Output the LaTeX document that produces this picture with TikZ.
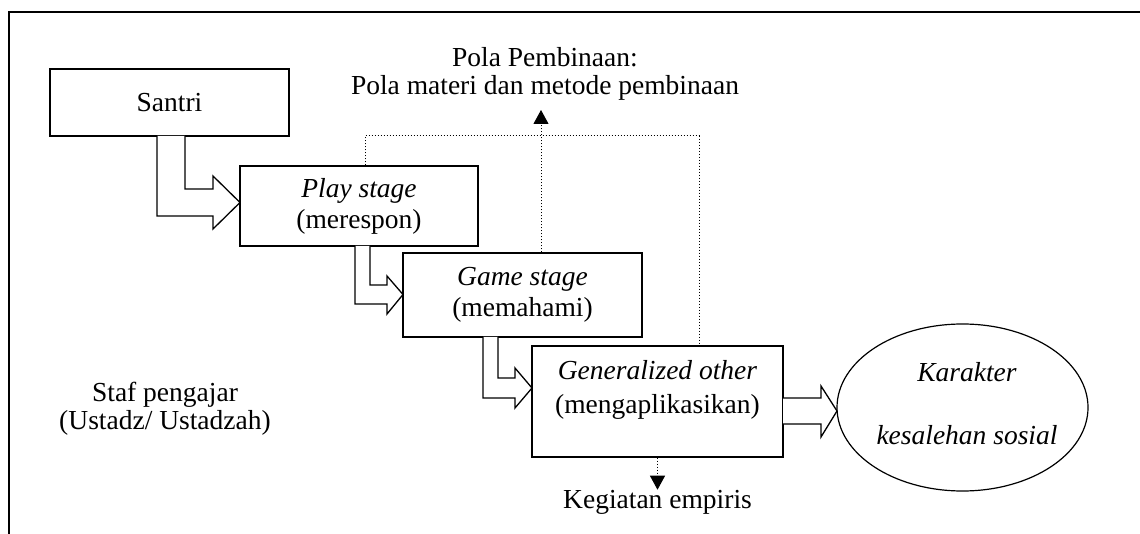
\documentclass[tikz,border=0pt]{standalone}
\usepackage{fontspec}
\setmainfont{Liberation Serif}
\usetikzlibrary{arrows.meta,calc,shapes.geometric}
\begin{document}
\begin{tikzpicture}[x=1pt,y=-1pt,
 box/.style={draw,line width=1.4pt,inner sep=0pt,align=center,font=\fontsize{27.5}{31}\selectfont},
 txt/.style={inner sep=0pt,align=center,font=\fontsize{27.5}{28}\selectfont},
 blockarrow/.style={draw,line width=1.3pt,fill=white,line join=miter},
 dotline/.style={line width=1pt,dash pattern=on 1pt off 2pt},
 tipped/.style={-{Triangle[width=15pt,length=14pt]}}
]
\useasboundingbox (0,0) rectangle (1140,534);
% frame
\coordinate (ftl) at (9,12);
\coordinate (ftr) at (1141,12);
\coordinate (fbl) at (9,535);
\draw[line width=1.4pt] (fbl) -- (ftl) -- (ftr);

% boxes
\node[box,minimum width=239pt,minimum height=67pt] (santri) at (169.5,102.5) {Santri};
\node[box,minimum width=238pt,minimum height=80pt] (play) at (359,206) {\textit{Play stage}\\(merespon)};
\node[box,minimum width=239pt,minimum height=84pt] (game) at (522.5,295) {\textit{Game stage}\\(memahami)};
\node[box,minimum width=251pt,minimum height=111pt] (gen) at (657.5,401.5) {};
\node[txt,font=\fontsize{27.5}{34}\selectfont] (gentext) at (657.5,390) {\textit{Generalized other}\\(mengaplikasikan)};
\node[draw,ellipse,line width=1.2pt,inner sep=0pt,minimum width=251pt,minimum height=167pt] (kar) at (962.5,407.5) {};
\node[txt] (kar1) at (967,372) {\textit{Karakter}};
\node[txt] (kar2) at (967,435) {\textit{kesalehan sosial}};

% labels
\node[txt] (pola) at (545,74) {Pola Pembinaan:\\Pola materi dan metode pembinaan};
\node[txt] (staf) at (165,409) {Staf pengajar\\(Ustadz/ Ustadzah)};
\node[txt] (keg) at (657.5,502) {Kegiatan empiris};

% block arrows
\draw[blockarrow] (157,136) -- (157,216) -- (213,216) -- (213,229) -- (240,202.5) -- (213,176) -- (213,189) -- (185,189) -- (185,136);
\draw[blockarrow] (355,246) -- (355,304) -- (387,304) -- (387,314) -- (403,294.5) -- (387,276) -- (387,285) -- (370,285) -- (370,246);
\draw[blockarrow] (483,337) -- (483,398) -- (515,398) -- (515,408) -- (532,388) -- (515,368) -- (515,378) -- (498,378) -- (498,337);
\draw[blockarrow] (783,398) -- (821,398) -- (821,386) -- (837,411) -- (821,437) -- (821,424) -- (783,424);

% dotted connectors
\coordinate (dl) at (365,136);
\coordinate (dr) at (699,136);
\coordinate (poltip) at (541,110);
\draw[dotline] (play.north -| dl) -- (dl) -- (dr) -- (gen.north -| dr);
\draw[dotline,tipped] (game.north -| poltip) -- (poltip);
\draw[dotline,tipped] (gen.south) -- (keg.north);
\end{tikzpicture}
\end{document}
